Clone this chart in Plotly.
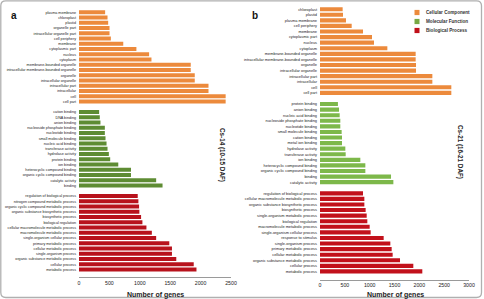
import plotly.graph_objects as go

W, H = 484, 299

# ---------------- Data ----------------
a_cc_labels = ["plasma membrane", "chloroplast", "plastid", "organelle part", "intracellular organelle part",
               "cell periphery", "membrane", "cytoplasmic part", "nucleus", "cytoplasm",
               "membrane-bounded organelle", "intracellular membrane-bounded organelle", "organelle",
               "intracellular organelle", "intracellular part", "intracellular", "cell", "cell part"]
a_cc_vals = [430, 469, 480, 502, 502, 524, 728, 944, 1153, 1192, 1838, 1838, 1904, 1904, 2130, 2130, 2412, 2412]

a_mf_labels = ["cation binding", "DNA binding", "anion binding", "nucleoside phosphate binding",
               "nucleotide binding", "small molecule binding", "nucleic acid binding", "transferase activity",
               "hydrolase activity", "protein binding", "ion binding", "heterocyclic compound binding",
               "organic cyclic compound binding", "catalytic activity", "binding"]
a_mf_vals = [331, 342, 353, 425, 425, 436, 453, 469, 491, 513, 646, 855, 855, 1269, 1374]

a_bp_labels = ["regulation of biological process", "nitrogen compound metabolic process",
               "organic cyclic compound metabolic process", "organic substance biosynthetic process",
               "biosynthetic process", "biological regulation", "cellular macromolecule metabolic process",
               "macromolecule metabolic process", "single-organism cellular process", "primary metabolic process",
               "cellular metabolic process", "single-organism process", "organic substance metabolic process",
               "cellular process", "metabolic process"]
a_bp_vals = [966, 977, 988, 993, 1021, 1043, 1109, 1198, 1269, 1485, 1529, 1529, 1600, 1887, 1932]

b_cc_labels = ["chloroplast", "plastid", "plasma membrane", "cell periphery", "membrane", "cytoplasmic part",
               "nucleus", "cytoplasm", "membrane-bounded organelle", "intracellular membrane-bounded organelle",
               "organelle", "intracellular organelle", "intracellular part", "intracellular", "cell", "cell part"]
b_cc_vals = [456, 463, 523, 638, 866, 1047, 1087, 1356, 1926, 1926, 1933, 1933, 2262, 2262, 2644, 2644]

b_mf_labels = ["protein binding", "anion binding", "nucleic acid binding", "nucleoside phosphate binding",
               "nucleotide binding", "small molecule binding", "cation binding", "metal ion binding",
               "hydrolase activity", "transferase activity", "ion binding", "heterocyclic compound binding",
               "organic cyclic compound binding", "binding", "catalytic activity"]
b_mf_vals = [361, 383, 396, 409, 409, 436, 443, 443, 510, 517, 812, 913, 913, 1430, 1477]

b_bp_labels = ["regulation of biological process", "cellular macromolecule metabolic process",
               "organic substance biosynthetic process", "biosynthetic process",
               "single-organism metabolic process", "biological regulation", "macromolecule metabolic process",
               "single-organism cellular process", "response to stimulus", "single-organism process",
               "primary metabolic process", "cellular metabolic process", "organic substance metabolic process",
               "cellular process", "metabolic process"]
b_bp_vals = [866, 893, 893, 919, 940, 953, 1000, 1020, 1282, 1416, 1443, 1463, 1611, 1879, 2060]

a_xticks = [0, 500, 1000, 1500, 2000, 2500]
b_xticks = [0, 500, 1000, 1500, 2000, 2500, 3000]

legend_names = ["Cellular Component", "Molecular Function", "Biological Process"]
legend_colors = ["#EC8A3C", "#78A844", "#C0101A"]

a_colors = ["#EC8A3C", "#5E8C33", "#B8121C"]
b_colors = ["#EC8A3C", "#7DB84A", "#C2111B"]

FONT = "Liberation Sans"
TXT = "#222222"

fig = go.Figure()


def add_panel(groups, colors, xa, ya):
    pos = 0
    tickvals, ticktext = [], []
    for (labels, vals), col in zip(groups, colors):
        ys = list(range(pos, pos + len(labels)))
        fig.add_trace(go.Bar(x=vals, y=ys, orientation="h", marker=dict(color=col, line=dict(width=0)),
                             xaxis=xa, yaxis=ya, showlegend=False, width=0.74))
        tickvals += ys
        ticktext += labels
        pos += len(labels) + 1
    return tickvals, ticktext, pos - 1


a_tv, a_tt, a_n = add_panel([(a_cc_labels, a_cc_vals), (a_mf_labels, a_mf_vals), (a_bp_labels, a_bp_vals)],
                            a_colors, "x", "y")
b_tv, b_tt, b_n = add_panel([(b_cc_labels, b_cc_vals), (b_mf_labels, b_mf_vals), (b_bp_labels, b_bp_vals)],
                            b_colors, "x2", "y2")


def px_x(v):
    return v / W


def px_y(v):
    return 1 - v / H


xcommon = dict(showgrid=False, zeroline=False, showline=True, linecolor="#9a9a9a", linewidth=1,
               ticks="", tickfont=dict(family=FONT, size=5.2, color=TXT), fixedrange=True)
ycommon = dict(showgrid=False, zeroline=False, showline=False, ticks="",
               tickfont=dict(family=FONT, size=3.7, color=TXT), ticklabelstandoff=2, fixedrange=True)

fig.update_layout(
    template="none",
    font=dict(family=FONT, color=TXT),
    width=W, height=H, margin=dict(l=0, r=0, t=0, b=0, pad=0),
    paper_bgcolor="white", plot_bgcolor="white",
    bargap=0.26, showlegend=False,
    xaxis=dict(domain=[px_x(79), px_x(231)], range=[0, 2500], tickvals=a_xticks, anchor="y", **xcommon),
    yaxis=dict(domain=[px_y(277.4), px_y(9.6)], range=[a_n + 0.5, -0.5], tickvals=a_tv, ticktext=a_tt,
               anchor="x", **ycommon),
    xaxis2=dict(domain=[px_x(320), px_x(469)], range=[0, 3000], tickvals=b_xticks, anchor="y2", **xcommon),
    yaxis2=dict(domain=[px_y(279.8), px_y(6.4)], range=[b_n + 0.5, -0.5], tickvals=b_tv, ticktext=b_tt,
                anchor="x2", **dict(ycommon, tickfont=dict(family=FONT, size=3.9, color=TXT))),
)

ann = []
# panel letters
ann.append(dict(x=px_x(13.5), y=px_y(15.5), text="<b>a</b>", font=dict(family=FONT, size=10, color="#111")))
ann.append(dict(x=px_x(254.5), y=px_y(16), text="<b>b</b>", font=dict(family=FONT, size=10, color="#111")))
# axis titles
ann.append(dict(x=px_x(155), y=px_y(295), text="<b>Number of genes</b>", font=dict(family=FONT, size=7, color=TXT)))
ann.append(dict(x=px_x(395), y=px_y(295), text="<b>Number of genes</b>", font=dict(family=FONT, size=7, color=TXT)))
# side labels
ann.append(dict(x=px_x(222), y=px_y(155), text="<b>Cs-14 (10-15 DAF)</b>", textangle=90,
                font=dict(family=FONT, size=6.3, color=TXT)))
ann.append(dict(x=px_x(460), y=px_y(152), text="<b>Cs-21 (16-21 DAF)</b>", textangle=90,
                font=dict(family=FONT, size=6.3, color=TXT)))

shapes = []
for i, (nm, col) in enumerate(zip(legend_names, legend_colors)):
    yc = 12.5 + i * 9
    shapes.append(dict(type="rect", xref="paper", yref="paper", x0=px_x(414.5), x1=px_x(419.5),
                       y0=px_y(yc + 2.6), y1=px_y(yc - 2.6), fillcolor=col, line=dict(width=0)))
    ann.append(dict(x=px_x(424), y=px_y(yc), text="<b>" + nm + "</b>", xanchor="left",
                    font=dict(family=FONT, size=4.6, color="#333")))

for a in ann:
    a.setdefault("xref", "paper")
    a.setdefault("yref", "paper")
    a.setdefault("showarrow", False)
    a.setdefault("xanchor", "center")
    a.setdefault("yanchor", "middle")

# outer frame with rounded corners
x0, y0, x1, y1, r = 0.8, 0.8, 481.5, 297.5, 5
path = (f"M {x0 + r},{y0} L {x1 - r},{y0} Q {x1},{y0} {x1},{y0 + r} L {x1},{y1 - r} Q {x1},{y1} {x1 - r},{y1} "
        f"L {x0 + r},{y1} Q {x0},{y1} {x0},{y1 - r} L {x0},{y0 + r} Q {x0},{y0} {x0 + r},{y0} Z")


def conv_path(p):
    toks = p.replace(",", " ").split()
    i = 0
    res = []
    while i < len(toks):
        t = toks[i]
        if t.isalpha():
            res.append(t)
            i += 1
        else:
            xv = float(toks[i]) / W
            yv = 1 - float(toks[i + 1]) / H
            res.append(f"{xv:.5f},{yv:.5f}")
            i += 2
    return " ".join(res)


shapes.append(dict(type="path", xref="paper", yref="paper", path=conv_path(path),
                   line=dict(color="#b0b0b0", width=1.3), fillcolor="rgba(0,0,0,0)"))

fig.update_layout(annotations=ann, shapes=shapes)
fig.write_html("out.html")
